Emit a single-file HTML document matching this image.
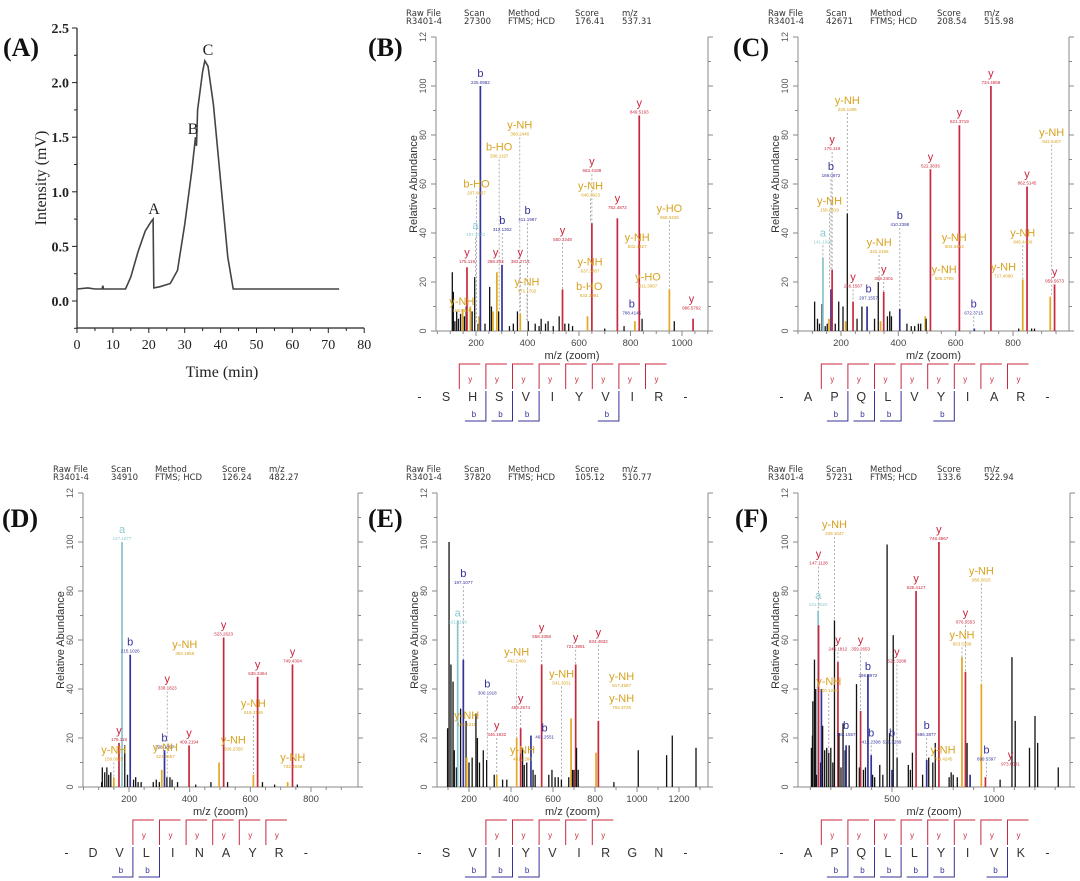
<!DOCTYPE html>
<html><head><meta charset="utf-8"><style>
html,body{margin:0;padding:0;background:#fff;}
svg{display:block;}
</style></head><body>
<svg id="fig" width="1080" height="881" viewBox="0 0 1080 881" xmlns="http://www.w3.org/2000/svg"></svg>
<script>
// ---------- Panel A data ----------
const chromT = [0,3,5,7,7.2,7.4,10,13.5,15,17,19,20.5,21.2,21.4,23,26,28,30,32,33,33.3,33.6,35,35.6,36.5,38,40,41,42,43.5,50,73];
const chromI = [0.11,0.12,0.11,0.11,0.14,0.11,0.11,0.11,0.22,0.45,0.64,0.72,0.75,0.12,0.13,0.16,0.28,0.7,1.2,1.5,1.42,1.75,2.1,2.2,2.15,1.8,1.1,0.75,0.4,0.11,0.11,0.11];
const chromXTicks = [0,10,20,30,40,50,60,70,80];
const chromYTicks = [0.0,0.5,1.0,1.5,2.0,2.5];

// ---------- Panel B data ----------
const bMz  = [108,112,118,125,132,140,148,155,162,165,178,185,195,208,212,217,235,253,260,266,281,288,301,330,345,361,372,403,430,445,453,470,480,500,523,536,545,560,575,633,650,700,749,775,817,834,845,951,970,1043];
const bInt = [24,16,4,8,5,7,9,6,10,26,10,8,22,3,6,100,3,18,10,8,24,8,27,2,3,8,7,4,3,2,5,3,4,2,6,17,3,3,2,6,44,1,46,2,4,88,5,17,4,5];
const bTyp = ['k','k','k','k','k','k','n','k','k','y','n','k','k','k','n','b','k','k','k','n','n','k','b','k','k','k','n','k','k','k','k','k','k','k','k','y','k','k','k','n','y','k','y','k','n','y','k','n','k','y'];
const bLabMz  = [217,834,650,749,370,290,202,198,302,400,165,276,372,536,645,643,640,826,868,805,1037,951,398,145];
const bLabH   = [100,88,64,49,79,70,55,38,40,44,27,27,27,36,54,23,13,33,17,6,8,45,15,7];
const bLabTyp = ['b','y','y','y','n','n','n','a','b','b','y','y','y','y','n','n','n','n','n','b','y','n','n','n'];
const bLabName= ['b','y','y','y','y-NH','b-HO','b-HO','a','b','b','y','y','y','y','y-NH','y-NH','b-HO','y-NH','y-HO','b','y','y-HO','y-NH','y-NH'];
const bLabVal = ['225.0982','849.5193','663.4188','762.4872','368.2446','286.1197','207.0837','197.1033','312.1302','411.1987','175.119','288.203','382.2714','550.3348','646.3923','637.3887','633.3091','832.4827','811.3887','788.4145','986.5792','968.3426','371.1702','158.0925'];

// ---------- Panel C data ----------
const cMz  = [108,118,125,134,137,145,152,158,165,169,180,192,207,216,222,242,256,273,291,317,330,338,349,362,370,376,405,430,445,457,470,478,494,497,512,613,665,723,820,834,849,865,875,930,945];
const cInt = [12,5,3,11,30,2,3,5,17,25,3,12,10,4,48,12,5,10,10,5,20,4,16,6,8,6,9,3,2,2,3,3,6,5,66,84,1,100,1,21,59,1,1,14,19];
const cTyp = ['k','k','k','k','a','k','k','n','b','y','k','k','k','n','k','y','k','k','b','k','k','n','y','k','k','k','b','k','k','k','k','k','n','k','y','y','b','y','k','n','y','k','k','n','y'];
const cLabMz  = [723,613,512,849,945,169,165,160,137,222,242,296,333,349,405,560,595,663,767,834,935];
const cLabH   = [100,84,66,59,19,73,62,48,35,89,17,12,31,20,42,20,33,6,21,35,76];
const cLabTyp = ['y','y','y','y','y','y','b','n','a','n','y','b','n','y','b','n','n','b','n','n','n'];
const cLabName= ['y','y','y','y','y','y','b','y-NH','a','y-NH','y','b','y-NH','y','b','y-NH','y-NH','b','y-NH','y-NH','y-NH'];
const cLabVal = ['734.4559','621.3719','522.3835','862.5145','959.5673','175.119','169.0972','158.0919','141.1025','225.1295','246.1567','297.1557','342.2156','359.2401','410.2398','505.2795','604.3453','672.3715','717.4080','845.4400','942.5407'];

// ---------- Panel D data ----------
const dMz  = [110,112,120,127,133,140,150,167,177,186,195,204,215,222,230,240,280,290,300,308,317,325,335,342,360,398,420,470,497,512,525,610,624,640,680,723,739,755];
const dInt = [2,8,6,8,5,6,4,18,100,17,5,54,3,4,2,2,2,3,2,7,15,4,4,3,2,17,1,2,10,61,2,5,45,2,1,2,50,1];
const dTyp = ['k','k','k','k','k','k','n','y','a','k','k','b','k','k','k','k','k','k','k','n','b','k','k','k','k','y','k','k','n','y','k','n','y','k','k','n','y','k'];
const dLabMz  = [177,204,167,150,317,326,320,384,398,512,544,624,610,739,740];
const dLabH   = [100,54,18,10,15,39,11,53,17,61,14,45,29,50,7];
const dLabTyp = ['a','b','y','n','b','y','n','n','y','y','n','y','n','y','n'];
const dLabName= ['a','b','y','y-NH','b','y','y-NH','y-NH','y','y','y-NH','y','y-NH','y','y-NH'];
const dLabVal = ['147.1077','215.1026','175.119','158.0925','328.1867','338.1823','321.1557','392.1958','409.2194','523.2623','506.2358','636.3464','619.3199','749.4304','732.4038'];

// ---------- Panel E data ----------
const eMz  = [98,105,114,124,130,140,146,160,173,186,189,200,215,233,240,250,268,284,320,332,360,380,427,446,455,463,475,495,505,515,546,580,595,610,625,640,675,686,693,700,708,712,720,805,816,890,1006,1141,1168,1281];
const eInt = [24,100,50,43,15,8,68,32,52,27,12,10,12,30,20,10,15,11,5,5,3,3,20,24,16,9,10,21,7,5,50,5,7,4,4,3,4,28,7,7,50,16,7,14,27,2,15,13,21,16];
const eTyp = ['k','k','k','k','k','k','a','k','b','k','n','k','k','k','k','k','k','k','k','n','k','k','n','y','k','k','k','b','k','k','y','k','k','k','k','k','k','n','k','k','y','k','k','n','y','k','k','k','k','k'];
const eLabMz  = [173,146,189,287,332,427,446,455,560,546,641,708,816,927,927];
const eLabH   = [82,66,24,37,20,50,31,10,19,60,41,56,58,40,31];
const eLabTyp = ['b','a','n','b','y','n','y','n','b','y','n','y','y','n','n'];
const eLabName= ['b','a','y-NH','b','y','y-NH','y','y-NH','b','y','y-NH','y','y','y-NH','y-NH'];
const eLabVal = ['197.1077','151.1186','184.1211','300.1918','346.1932','442.2469','459.2674','441.2288','463.2551','558.3358','541.3031','721.3991','834.4832','817.4567','704.3726'];

// ---------- Panel F data ----------
const fMz  = [105,110,112,120,126,130,138,140,150,154,160,170,180,190,200,210,218,235,240,250,260,270,275,290,326,340,346,360,370,382,398,405,415,440,455,476,488,500,506,525,580,590,600,618,650,670,680,700,712,730,780,790,800,820,843,860,868,883,938,958,1030,1088,1104,1174,1201,1214,1315];
const fInt = [16,21,35,52,40,5,72,66,10,40,25,15,16,14,16,10,68,51,22,8,26,15,17,17,42,8,31,7,8,46,13,5,4,9,5,99,22,7,62,12,9,7,14,80,5,11,12,10,18,100,4,6,5,4,53,47,18,5,42,4,3,53,27,16,29,18,8];
const fTyp = ['k','k','k','k','k','k','a','y','k','b','k','k','k','k','k','k','k','y','k','k','k','k','b','k','k','k','y','k','k','b','b','k','k','k','k','k','k','b','k','k','k','k','k','y','k','b','k','k','k','y','k','k','k','k','n','y','k','b','n','y','k','k','k','k','k','k','k'];
const fLabMz  = [730,618,140,138,218,235,346,524,382,190,860,843,938,275,398,500,670,750,963,1081];
const fLabH   = [100,80,90,73,102,55,55,50,44,38,66,57,83,20,17,17,20,10,10,8];
const fLabTyp = ['y','y','y','a','n','y','y','y','b','n','y','n','n','b','b','b','b','n','b','y'];
const fLabName= ['y','y','y','a','y-NH','y','y','y','b','y-NH','y','y-NH','y-NH','b','b','b','b','y-NH','b','y'];
const fLabVal = ['748.4967','635.4127','147.1128','141.0022','229.1047','246.1812','359.2653','522.3288','369.8972','200.1230','876.5553','853.5388','956.5815','292.1557','412.2398','520.3239','686.3877','708.4245','899.5397','973.6081'];

// ---------- drawing ----------
const NS = 'http://www.w3.org/2000/svg';
const svg = document.getElementById('fig');
function mk(tag, attrs, parent) {
  const el = document.createElementNS(NS, tag);
  for (const k in attrs) el.setAttribute(k, attrs[k]);
  (parent || svg).appendChild(el);
  return el;
}
function txt(s, attrs, parent) { const t = mk('text', attrs, parent); t.textContent = s; return t; }
const COL = {k:'#111', y:'#c8283e', b:'#33339a', n:'#e2a820', a:'#86c4cc'};
const TCOL = {k:'#111', y:'#c8283e', b:'#33339a', n:'#d8a21e', a:'#8cc8d0'};

// Panel A
(function(){
  const g = mk('g', {});
  
  
  const X0 = 77, PXM = 3.59, Y0 = 301, PPU = 109.2;
  const sx = t => X0 + t*PXM, sy = v => Y0 - v*PPU;
  const ax = mk('path', {d:`M${X0},${sy(2.5)} L${X0},328 L${sx(80)},328`, fill:'none', stroke:'#222', 'stroke-width':1.2}, g);
  
  
  chromXTicks.forEach(t => {
    mk('line', {x1:sx(t), x2:sx(t), y1:328, y2:333, stroke:'#222', 'stroke-width':1}, g);
    if (t < 80) mk('line', {x1:sx(t+5), x2:sx(t+5), y1:328, y2:331, stroke:'#222', 'stroke-width':1}, g);
    const l = txt(String(t), {x:sx(t), y:349, 'text-anchor':'middle', 'font-family':'Liberation Serif, serif', 'font-size':14, fill:'#222'}, g);
    
    
  });
  chromYTicks.forEach(v => {
    mk('line', {x1:X0-5, x2:X0, y1:sy(v), y2:sy(v), stroke:'#222', 'stroke-width':1}, g);
    mk('line', {x1:X0-3, x2:X0, y1:sy(v-0.25), y2:sy(v-0.25), stroke:'#222', 'stroke-width':1}, g);
    const l = txt(v.toFixed(1), {x:X0-8, y:sy(v)+5, 'text-anchor':'end', 'font-family':'Liberation Serif, serif', 'font-weight':'bold', 'font-size':14, fill:'#222'}, g);
    
    
  });
  let d = '';
  chromT.forEach((t,i) => { d += (i?'L':'M') + sx(t).toFixed(1) + ',' + sy(chromI[i]).toFixed(1) + ' '; });
  const line = mk('path', {d, fill:'none', stroke:'#444', 'stroke-width':1.6}, g);
  
  
  const yt = txt('Intensity (mV)', {x:0, y:0, transform:'translate(46,178) rotate(-90)', 'text-anchor':'middle', 'font-family':'Liberation Serif, serif', 'font-size':16, fill:'#222'}, g);
  
  
  const xt = txt('Time (min)', {x:222, y:377, 'text-anchor':'middle', 'font-family':'Liberation Serif, serif', 'font-size':16, fill:'#222'}, g);
  
  
  [['A',154,214],['B',193,134],['C',208,55]].forEach(p => {
    const l = txt(p[0], {x:p[1], y:p[2], 'text-anchor':'middle', 'font-family':'Liberation Serif, serif', 'font-size':16, fill:'#222'}, g);
    
    
  });
  const pl = txt('(A)', {x:3, y:56, 'font-family':'Liberation Serif, serif', 'font-weight':'bold', 'font-size':26, fill:'#111'}, g);
  
  
})();

function spectrum(cfg, mz, inten, typ, lmz, lh, ltyp, lname, lval) {
  const g = mk('g', {});
  
  
  const sx = m => cfg.pxA + (m - cfg.mzA) * (cfg.pxB - cfg.pxA) / (cfg.mzB - cfg.mzA);
  const sy = v => cfg.y0 - v * (cfg.y0 - cfg.y100) / 100;
  const top = sy(120);
  const hx = [0,58,102,169,216];
  const h1 = ['Raw File','Scan','Method','Score','m/z'];
  const h2 = ['R3401-4', cfg.scan, 'FTMS; HCD', cfg.score, cfg.mz];
  hx.forEach((o,i) => {
    const a = txt(h1[i], {x:cfg.hx+o, y:cfg.hy, 'font-family':'DejaVu Sans, sans-serif', 'font-size':8.5, fill:'#333'}, g);
    
    
    const b = txt(h2[i], {x:cfg.hx+o, y:cfg.hy+8, 'font-family':'DejaVu Sans, sans-serif', 'font-size':8.5, fill:'#333'}, g);
    
    
  });
  const pl = txt('(' + cfg.id.toUpperCase() + ')', {x:cfg.lx, y:cfg.ly, 'font-family':'Liberation Serif, serif', 'font-weight':'bold', 'font-size':26, fill:'#111'}, g);
  
  
  const fr = mk('path', {d:`M${cfg.left},${top} L${cfg.left},${cfg.y0} L${cfg.right},${cfg.y0} L${cfg.right},${top}`, fill:'none', stroke:'#888', 'stroke-width':1}, g);
  
  
  for (let v = 0; v <= 120; v += 10) {
    const major = v % 20 === 0;
    mk('line', {x1:cfg.left-(major?5:3), x2:cfg.left, y1:sy(v), y2:sy(v), stroke:'#888', 'stroke-width':1}, g);
    mk('line', {x1:cfg.right, x2:cfg.right+(major?5:3), y1:sy(v), y2:sy(v), stroke:'#888', 'stroke-width':1}, g);
    if (major) {
      const l = txt(v === 120 ? '12' : String(v), {x:0, y:0, transform:`translate(${cfg.left-10},${sy(v)}) rotate(-90)`, 'text-anchor':'middle', 'font-family':'Liberation Sans, sans-serif', 'font-size':9, fill:'#555'}, g);
      
      
    }
  }
  for (let m = cfg.tMin; m <= cfg.tMax; m += cfg.minor) {
    const x = sx(m);
    if (x < cfg.left || x > cfg.right) continue;
    const major = m % cfg.major === 0;
    mk('line', {x1:x, x2:x, y1:cfg.y0, y2:cfg.y0+(major?5:3), stroke:'#888', 'stroke-width':1}, g);
    if (major) {
      const l = txt(String(m), {x:x, y:cfg.y0+15, 'text-anchor':'middle', 'font-family':'Liberation Sans, sans-serif', 'font-size':9.5, fill:'#444'}, g);
      
      
    }
  }
  const yt = txt('Relative Abundance', {x:0, y:0, transform:`translate(${cfg.left-19},${sy(60)}) rotate(-90)`, 'text-anchor':'middle', 'font-family':'Liberation Sans, sans-serif', 'font-size':11, fill:'#333'}, g);
  
  
  const xt = txt('m/z (zoom)', {x:(cfg.left+cfg.right)/2, y:cfg.y0+28, 'text-anchor':'middle', 'font-family':'Liberation Sans, sans-serif', 'font-size':11, fill:'#333'}, g);
  
  
  mz.forEach((m,i) => {
    const p = mk('line', {x1:sx(m), x2:sx(m), y1:sy(0), y2:sy(inten[i]), stroke:COL[typ[i]], 'stroke-width':typ[i]==='k'?1.3:1.7}, g);
    
    
  });
  lmz.forEach((m,i) => {
    let ph = 0;
    mz.forEach((mm,j) => { if (Math.abs(mm - m) <= 6 && inten[j] > ph) ph = inten[j]; });
    if (ph > 0 && lh[i] > ph + 3) {
      const dl = mk('line', {x1:sx(m), x2:sx(m), y1:sy(lh[i]), y2:sy(ph), stroke:'#999', 'stroke-width':0.8, 'stroke-dasharray':'2,2'}, g);
      
      
    }
    const y = sy(lh[i]) - 2;
    const n = txt(lname[i], {x:sx(m), y:y-7, 'text-anchor':'middle', 'font-family':'Liberation Sans, sans-serif', 'font-size':11, fill:TCOL[ltyp[i]]}, g);
    
    
    const v = txt(lval[i], {x:sx(m), y:y, 'text-anchor':'middle', 'font-family':'Liberation Sans, sans-serif', 'font-size':4.5, fill:TCOL[ltyp[i]]}, g);
    
    
  });
  const sp = 26.6, ly = cfg.sy;
  const letters = ['-'].concat(cfg.seq.split(''), ['-']);
  letters.forEach((c,k) => {
    const t = txt(c, {x:cfg.sx + (k-1)*sp, y:ly, 'text-anchor':'middle', 'font-family':'Liberation Sans, sans-serif', 'font-size':12.5, fill:'#333'}, g);
    
    
  });
  cfg.yBr.forEach(i => {
    const x = cfg.sx + (i-0.5)*sp;
    const br = mk('path', {d:`M${x},${ly-12} L${x},${ly-37} L${x+21},${ly-37}`, fill:'none', stroke:'#c8283e', 'stroke-width':1}, g);
    
    
    txt('y', {x:x+11, y:ly-19, 'text-anchor':'middle', 'font-family':'Liberation Sans, sans-serif', 'font-size':8, fill:'#c8283e'}, g);
  });
  cfg.bBr.forEach(i => {
    const x = cfg.sx + (i-0.5)*sp;
    const br = mk('path', {d:`M${x},${ly-10} L${x},${ly+20} L${x-21},${ly+20}`, fill:'none', stroke:'#33339a', 'stroke-width':1}, g);
    
    
    txt('b', {x:x-12, y:ly+16, 'text-anchor':'middle', 'font-family':'Liberation Sans, sans-serif', 'font-size':8, fill:'#33339a'}, g);
  });
}

spectrum({id:'b', left:436, right:708, y0:331, y100:86, mzA:200, pxA:476, mzB:1000, pxB:682, tMin:50, tMax:1100, minor:50, major:200,
  hx:406, hy:16, scan:'27300', score:'176.41', mz:'537.31', lx:368, ly:56, seq:'SHSVIYVIR', sx:446, sy:401, yBr:[1,2,3,4,5,6,7,8], bBr:[2,3,4,7]},
  bMz, bInt, bTyp, bLabMz, bLabH, bLabTyp, bLabName, bLabVal);
spectrum({id:'c', left:798, right:1069, y0:331, y100:86, mzA:200, pxA:841, mzB:800, pxB:1013, tMin:50, tMax:1000, minor:50, major:200,
  hx:768, hy:16, scan:'42671', score:'208.54', mz:'515.98', lx:733, ly:56, seq:'APQLVYIAR', sx:808, sy:401, yBr:[1,2,3,4,5,6,7,8], bBr:[2,3,4,6]},
  cMz, cInt, cTyp, cLabMz, cLabH, cLabTyp, cLabName, cLabVal);
spectrum({id:'d', left:83, right:358, y0:787, y100:542, mzA:200, pxA:129, mzB:800, pxB:311, tMin:50, tMax:900, minor:50, major:200,
  hx:53, hy:472, scan:'34910', score:'126.24', mz:'482.27', lx:2, ly:527, seq:'DVLINAYR', sx:93, sy:857, yBr:[2,3,4,5,6,7], bBr:[2,3]},
  dMz, dInt, dTyp, dLabMz, dLabH, dLabTyp, dLabName, dLabVal);
spectrum({id:'e', left:437, right:708, y0:787, y100:542, mzA:200, pxA:469, mzB:1200, pxB:679, tMin:100, tMax:1300, minor:100, major:200,
  hx:406, hy:472, scan:'37820', score:'105.12', mz:'510.77', lx:368, ly:527, seq:'SVIYVIRGN', sx:446, sy:857, yBr:[2,3,4,5,6], bBr:[2,3,4]},
  eMz, eInt, eTyp, eLabMz, eLabH, eLabTyp, eLabName, eLabVal);
spectrum({id:'f', left:798, right:1070, y0:787, y100:542, mzA:500, pxA:892, mzB:1000, pxB:994, tMin:100, tMax:1400, minor:100, major:500,
  hx:768, hy:472, scan:'57231', score:'133.6', mz:'522.94', lx:735, ly:527, seq:'APQLLYIVK', sx:808, sy:857, yBr:[1,2,3,4,5,6,7,8], bBr:[2,3,4,5,6,8]},
  fMz, fInt, fTyp, fLabMz, fLabH, fLabTyp, fLabName, fLabVal);
</script>
</body></html>
